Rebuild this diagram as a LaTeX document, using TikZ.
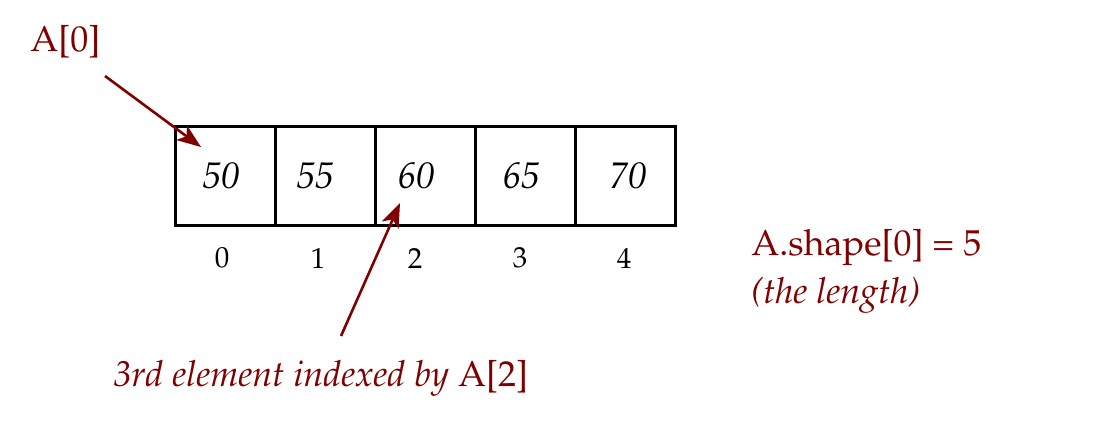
\documentclass[tikz,border=0pt]{standalone}
\usepackage[T1]{fontenc}
\usepackage{mathpazo}
\usetikzlibrary{arrows.meta}
\definecolor{maroon}{RGB}{128,0,0}
\begin{document}
\begin{tikzpicture}[x=0.5pt,y=-0.5pt,
  cell/.style={draw=black,line width=1.5pt,minimum width=50pt,minimum height=49.5pt,inner sep=0pt,anchor=center},
  val/.style={font=\fontsize{18.5}{22}\selectfont\itshape,inner sep=0pt},
  idx/.style={font=\fontsize{14.5}{17}\selectfont,inner sep=0pt},
  lab/.style={text=maroon,font=\fontsize{18}{22}\selectfont,inner sep=0pt},
  ptr/.style={draw=maroon,line width=1.3pt,-{Stealth[length=12pt,width=9pt,inset=3pt]}}]
\useasboundingbox (0,0) rectangle (1097,446);
\foreach \i/\v/\dx/\ix in {0/50/-4/-3,1/55/-10/-7,2/60/-9/-10,3/65/-4/-5,4/70/3/-1}{
  \node[cell] (c\i) at (225+100*\i,175.5) {};
  \node[val] (v\i) at ([xshift=\dx*0.5pt]c\i.center) {\v};
  \node[idx] (n\i) at (225+100*\i+\ix,258) {\i};
}
\node[lab,anchor=west] (a0) at (30,42) {A[0]};
\node[lab,anchor=west] (third) at (113,378) {\textit{3rd element indexed by} A[2]};
\node[lab,anchor=west] (shape) at (751,248) {A.shape[0] = 5};
\node[lab,anchor=west] (len) at (751,295) {\textit{(the length)}};
\coordinate (t1) at (105,76);
\coordinate (h1) at (201,147);
\coordinate (t2) at (341,336);
\coordinate (h2) at (400,203);
\draw[ptr] (t1) -- (h1);
\draw[ptr] (t2) -- (h2);
\end{tikzpicture}
\end{document}
